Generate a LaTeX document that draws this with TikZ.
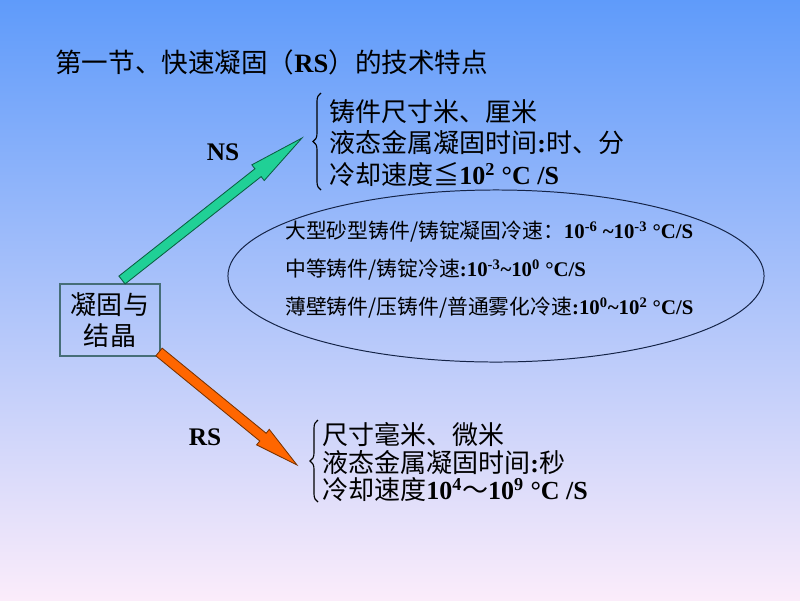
\documentclass[tikz,border=0pt]{standalone}
\usepackage{fontspec}
\setmainfont{Noto Sans CJK SC}
\newfontfamily\tnr{Liberation Serif}
\usetikzlibrary{calc,decorations.pathreplacing}

\definecolor{bgtop}{RGB}{95,155,250}
\definecolor{bgmid}{RGB}{160,202,244}
\definecolor{bgbot}{RGB}{251,236,250}
\definecolor{nsgreen}{RGB}{32,208,150}
\definecolor{nsedge}{RGB}{10,95,65}
\definecolor{rsorange}{RGB}{255,102,0}
\definecolor{rsedge}{RGB}{120,50,0}
\definecolor{boxedge}{RGB}{70,110,120}
\definecolor{ringedge}{RGB}{20,35,70}

\newcommand\rom[1]{{\tnr\bfseries #1}}
% block arrow: tail, tip, half shaft, half head, head length, style
\newcommand\blockarrow[6]{%
  \coordinate (ba-h) at ($(#2)!#5!(#1)$);
  \draw[#6] ($(#1)!#3!90:(#2)$) -- ($(ba-h)!#3!90:(#2)$) -- ($(ba-h)!#4!90:(#2)$)
    -- (#2) -- ($(ba-h)!#4!-90:(#2)$) -- ($(ba-h)!#3!-90:(#2)$) -- ($(#1)!#3!-90:(#2)$) -- cycle;
}

\begin{document}
\begin{tikzpicture}[x=0.025cm,y=-0.025cm,
    bigtext/.style={inner sep=0pt,font=\fontsize{18.5}{22}\selectfont},
    smalltext/.style={inner sep=0pt,font=\fontsize{14.8}{17}\selectfont},
    tag/.style={inner sep=0pt,font=\fontsize{18}{22}\selectfont\tnr\bfseries},
    curly/.style={decorate,decoration={brace,amplitude=0.2cm},line width=0.8pt}
  ]
    % background
    \shade[top color=bgtop,middle color=bgmid,bottom color=bgbot] (0,0) rectangle (800,600);
    \useasboundingbox (0,0) rectangle (800,600);

    \node[bigtext,anchor=west,font=\fontsize{18.9}{22}\selectfont] (title) at (55,62) {第一节、快速凝固（\rom{RS}）的技术特点};

    % centre box
    \node[bigtext,draw=boxedge,line width=0.9pt,minimum width=2.5cm,minimum height=1.8cm,align=center,
          font=\fontsize{18.5}{22}\selectfont] (box) at (110,320) {凝固与\\结晶};

    % NS branch
    \node[bigtext,anchor=west,align=left,font=\fontsize{18.5}{22.3}\selectfont] (nstext) at (329,143)
      {铸件尺寸米、厘米\\液态金属凝固时间\rom{:}时、分\\冷却速度≦\rom{10\textsuperscript{2} °C /S}};
    \draw[curly] (321,190) -- (321,93);
    \coordinate (nsTail) at (122,280);
    \coordinate (nsTip) at (302,138);
    \blockarrow{nsTail}{nsTip}{0.125cm}{0.25cm}{1.4cm}{fill=nsgreen,draw=nsedge,line width=0.6pt}
    \node[tag] (ns) at (223,152) {NS};

    % ellipse of cooling rates
    \draw[ringedge,line width=0.7pt] (496,276) ellipse [x radius=6.7cm,y radius=2.15cm];
    \node[smalltext,anchor=west,align=left,font=\fontsize{14.8}{27}\selectfont] (rates) at (285,270)
      {大型砂型铸件/铸锭凝固冷速：\rom{10\textsuperscript{-6} \textasciitilde10\textsuperscript{-3} °C/S}\\
       中等铸件/铸锭冷速\rom{:10\textsuperscript{-3}\textasciitilde10\textsuperscript{0} °C/S}\\
       薄壁铸件/压铸件/普通雾化冷速\rom{:10\textsuperscript{0}\textasciitilde10\textsuperscript{2} °C/S}};

    % RS branch
    \node[bigtext,anchor=west,align=left,font=\fontsize{18.5}{19.6}\selectfont] (rstext) at (322,462)
      {尺寸毫米、微米\\液态金属凝固时间\rom{:}秒\\冷却速度\rom{10\textsuperscript{4}}～\rom{10\textsuperscript{9} °C /S}};
    \draw[curly] (318,502) -- (318,420);
    \coordinate (rsTail) at (159,352);
    \coordinate (rsTip) at (297,465);
    \blockarrow{rsTail}{rsTip}{0.125cm}{0.25cm}{1.1cm}{fill=rsorange,draw=rsedge,line width=0.6pt}
    \node[tag] (rs) at (205,437) {RS};
\end{tikzpicture}
\end{document}
